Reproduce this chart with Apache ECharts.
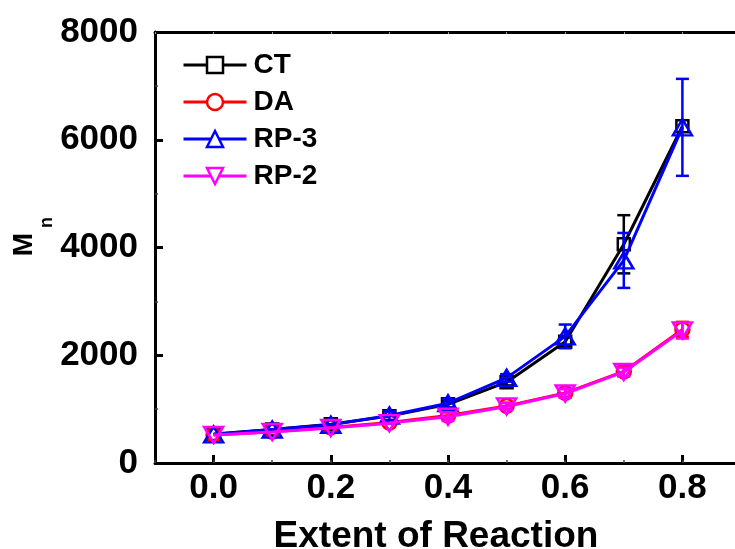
<!DOCTYPE html>
<html>
<head>
<meta charset="utf-8">
<script src="https://cdn.jsdelivr.net/npm/echarts@6/dist/echarts.min.js"></script>
<style>
html,body{margin:0;padding:0;background:#fff;}
#chart{width:735px;height:549px;}
</style>
</head>
<body>
<div id="chart"></div>
<script>
// ---- data ----
const xs = [0, 0.1, 0.2, 0.3, 0.4, 0.5, 0.6, 0.7, 0.8];
const xTickLabels = [0, 0.2, 0.4, 0.6, 0.8];
const yTicks = [0, 2000, 4000, 6000, 8000];

const ctVals  = [540, 620, 720, 870, 1090, 1500, 2250, 4060, 6250];
const ctErr   = [0, 0, 0, 0, 60, 60, 80, 540, 0];
const daVals  = [520, 580, 660, 750, 880, 1060, 1300, 1700, 2480];
const daErr   = [0, 0, 0, 0, 60, 60, 80, 90, 140];
const rp3Vals = [530, 620, 710, 880, 1110, 1580, 2350, 3760, 6230];
const rp3Err  = [0, 0, 0, 80, 80, 70, 220, 510, 900];
const rp2Vals = [520, 575, 650, 740, 860, 1050, 1290, 1690, 2460];
const rp2Err  = [0, 0, 0, 0, 80, 60, 80, 80, 150];

const seriesNames = ['CT', 'DA', 'RP-3', 'RP-2'];
const yTitleMain = 'M';
const yTitleSub = 'n';
// ---------------------------------------

const FONT = "'Liberation Sans', Arial, sans-serif";
const chart = echarts.init(document.getElementById('chart'), null, {renderer: 'canvas'});

function lineSeries(name, vals, color, symbol, size, rotate, z) {
  return {
    type: 'line', name: name, z: z,
    data: xs.map((x, i) => [x, vals[i]]),
    symbol: symbol, symbolSize: size, symbolRotate: rotate,
    showAllSymbol: true,
    lineStyle: {color: color, width: 3},
    itemStyle: {color: 'rgba(255,255,255,0)', borderColor: color, borderWidth: 2.5},
    emphasis: {disabled: true},
    animation: false
  };
}
function errSeries(name, vals, errs, color, z) {
  return {
    type: 'custom', name: name, z: z, silent: true, animation: false,
    encode: {x: 0, y: 1},
    data: xs.map((x, i) => [x, vals[i], errs[i]]),
    renderItem: function (params, api) {
      const x = api.value(0), y = api.value(1), e = api.value(2);
      if (!e) return null;
      const p1 = api.coord([x, y + e]);
      const p2 = api.coord([x, y - e]);
      const hw = 6.5;
      const st = {stroke: color, lineWidth: 2.5};
      return {
        type: 'group',
        children: [
          {type: 'line', shape: {x1: p1[0], y1: p1[1], x2: p2[0], y2: p2[1]}, style: st},
          {type: 'line', shape: {x1: p1[0] - hw, y1: p1[1], x2: p1[0] + hw, y2: p1[1]}, style: st},
          {type: 'line', shape: {x1: p2[0] - hw, y1: p2[1], x2: p2[0] + hw, y2: p2[1]}, style: st}
        ]
      };
    }
  };
}

const option = {
  backgroundColor: '#fff',
  animation: false,
  grid: {left: 155, top: 32, right: -6, bottom: 86, containLabel: false, outerBoundsMode: 'none'},
  legend: {
    data: seriesNames,
    orient: 'vertical',
    left: 182, top: 51, padding: 0,
    itemWidth: 63, itemHeight: 20, itemGap: 9,
    itemStyle: {color: '#fff', borderWidth: 2.5},
    lineStyle: {width: 3},
    textStyle: {fontFamily: FONT, fontWeight: 'bold', fontSize: 28, color: '#000', padding: [0, 0, 0, 2]},
    selectedMode: false
  },
  graphic: [
    {type: 'text', x: 24, y: 244.5, rotation: Math.PI / 2, silent: true,
      style: {text: yTitleMain, font: "bold 28px 'Liberation Sans', Arial, sans-serif", fill: '#000',
        textAlign: 'center', textVerticalAlign: 'middle'}},
    {type: 'text', x: 47.5, y: 222.5, rotation: Math.PI / 2, silent: true,
      style: {text: yTitleSub, font: "bold 18px 'Liberation Sans', Arial, sans-serif", fill: '#000',
        textAlign: 'center', textVerticalAlign: 'middle'}}
  ],
  xAxis: [
    {
      type: 'value', min: -0.1, max: 0.9, position: 'bottom',
      axisLine: {show: true, onZero: false, lineStyle: {color: '#000', width: 3}},
      axisTick: {show: true, inside: true, length: 8, lineStyle: {color: '#000', width: 3}, customValues: xTickLabels},
      axisLabel: {show: true, customValues: xTickLabels, margin: 8, formatter: v => v.toFixed(1),
        fontFamily: FONT, fontWeight: 'bold', fontSize: 35, color: '#000'},
      splitLine: {show: false},
      name: 'Extent of Reaction', nameLocation: 'middle', nameGap: 55,
      nameTextStyle: {fontFamily: FONT, fontWeight: 'bold', fontSize: 37, color: '#000', padding: [0, 24, 0, 0]}
    },
    {
      type: 'value', min: -0.1, max: 0.9, interval: 0.1, position: 'bottom',
      axisLine: {show: false},
      axisTick: {show: true, inside: true, length: 3, lineStyle: {color: '#444', width: 1.5}},
      axisLabel: {show: false}, splitLine: {show: false}
    },
    {
      type: 'value', min: -0.1, max: 0.9, interval: 0.1, position: 'top',
      axisLine: {show: true, onZero: false, lineStyle: {color: '#000', width: 3}},
      axisTick: {show: true, inside: true, length: 2, lineStyle: {color: '#999', width: 1}},
      axisLabel: {show: false}, splitLine: {show: false}
    }
  ],
  yAxis: [
    {
      type: 'value', min: 0, max: 8000, interval: 2000, position: 'left',
      axisLine: {show: true, onZero: false, lineStyle: {color: '#000', width: 3}},
      axisTick: {show: true, inside: true, length: 8, lineStyle: {color: '#000', width: 3}},
      minorTick: {show: true, splitNumber: 2, length: 3, lineStyle: {color: '#444', width: 1.5}},
      axisLabel: {show: true, margin: 17, formatter: v => String(v),
        fontFamily: FONT, fontWeight: 'bold', fontSize: 35, color: '#000'},
      splitLine: {show: false}
    }
  ],
  series: [
    lineSeries('CT', ctVals, '#000000', 'rect', 12, 0, 2),
    errSeries('CT-err', ctVals, ctErr, '#000000', 2),
    lineSeries('DA', daVals, '#ff0000', 'circle', 14, 0, 3),
    errSeries('DA-err', daVals, daErr, '#ff0000', 3),
    lineSeries('RP-3', rp3Vals, '#0000ff', 'triangle', [19, 16], 0, 4),
    errSeries('RP-3-err', rp3Vals, rp3Err, '#0000ff', 4),
    lineSeries('RP-2', rp2Vals, '#ff00ff', 'triangle', [19, 16], 180, 5),
    errSeries('RP-2-err', rp2Vals, rp2Err, '#ff00ff', 5)
  ]
};
chart.setOption(option);
</script>
</body>
</html>
